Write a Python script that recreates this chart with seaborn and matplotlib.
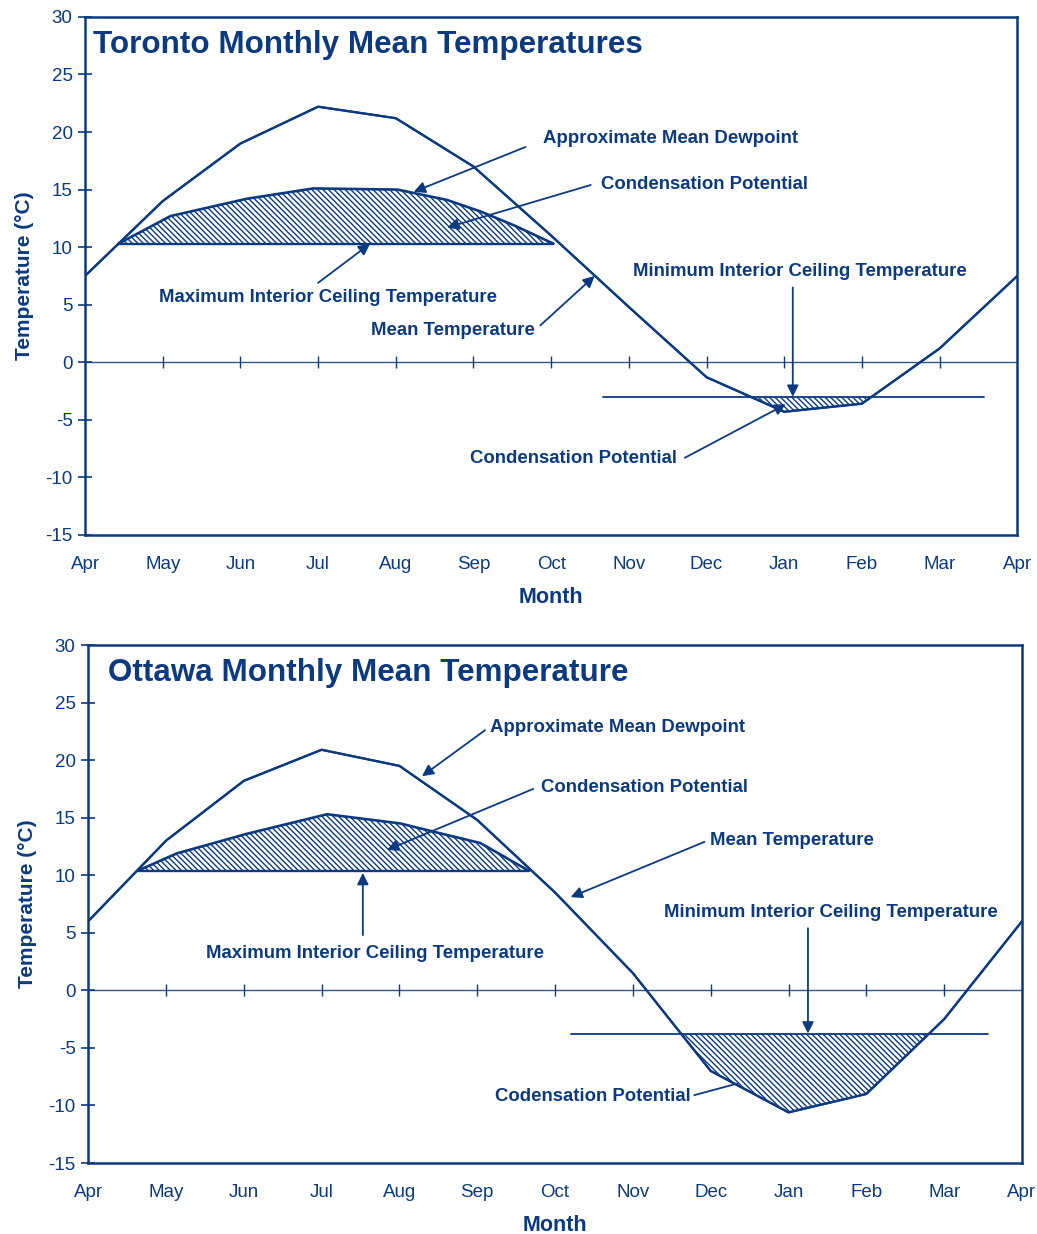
import numpy as np
import pandas as pd
import matplotlib
matplotlib.use('Agg')
import matplotlib.pyplot as plt
import seaborn as sns

# month positions: 0 = Apr ... 12 = Apr (next year)
months = ['Apr', 'May', 'Jun', 'Jul', 'Aug', 'Sep', 'Oct', 'Nov', 'Dec', 'Jan', 'Feb', 'Mar', 'Apr']
month_pos = list(range(13))

# Toronto data
tor_mean = [7.5, 14.0, 19.0, 22.2, 21.2, 17.0, 11.0, 4.8, -1.3, -4.3, -3.6, 1.2, 7.5]
tor_dew_x = [0.43, 1.1, 2.08, 2.94, 4.02, 4.66, 5.09, 5.52, 6.03]
tor_dew_y = [10.3, 12.7, 14.2, 15.1, 15.0, 14.1, 13.1, 11.9, 10.3]
tor_max_ceiling = 10.3
tor_min_ceiling = -3.0
tor_min_span = [6.67, 11.57]

# Ottawa data
ott_mean = [6.0, 13.0, 18.2, 20.9, 19.5, 14.8, 8.5, 1.5, -7.0, -10.6, -9.0, -2.5, 6.0]
ott_dew_x = [0.64, 1.14, 2.04, 3.07, 4.01, 4.61, 5.04, 5.66]
ott_dew_y = [10.4, 11.9, 13.6, 15.3, 14.5, 13.5, 12.8, 10.4]
ott_max_ceiling = 10.4
ott_min_ceiling = -3.75
ott_min_span = [6.2, 11.56]

navy = '#0b3a80'

sns.set_style('white')
plt.rcParams['font.family'] = ['Liberation Sans', 'DejaVu Sans']
plt.rcParams['axes.unicode_minus'] = False
plt.rcParams['hatch.color'] = navy
plt.rcParams['hatch.linewidth'] = 1.0

fig = plt.figure(figsize=(10.37, 12.34), dpi=100)
ax1 = fig.add_axes([0.082, 0.5665, 0.899, 0.4198])
ax2 = fig.add_axes([0.085, 0.0575, 0.9005, 0.4198])

hatch = '\\' * 6


def draw_panel(ax, mean, dew_x, dew_y, max_c, min_c, min_span, title, title_x):
    df = pd.DataFrame({'month': month_pos, 'temp': mean})
    sns.lineplot(data=df, x='month', y='temp', ax=ax, color=navy, lw=1.6)

    # upper condensation zone (dewpoint above max interior ceiling temp)
    ax.fill_between(dew_x, max_c, dew_y, facecolor='white', edgecolor=navy,
                    hatch=hatch, lw=0)
    dew = pd.DataFrame({'month': dew_x, 'temp': dew_y})
    sns.lineplot(data=dew, x='month', y='temp', ax=ax, color=navy, lw=1.9)
    ax.plot([dew_x[0], dew_x[-1]], [max_c, max_c], color=navy, lw=1.7)

    # lower condensation zone (mean temp below min interior ceiling temp)
    xf = np.linspace(0, 12, 1201)
    yf = np.interp(xf, month_pos, mean)
    ax.fill_between(xf, yf, min_c, where=yf < min_c, facecolor='white',
                    edgecolor=navy, hatch=hatch, lw=0, interpolate=True)
    ax.plot(month_pos, mean, color=navy, lw=1.6)
    ax.plot(min_span, [min_c, min_c], color=navy, lw=1.3)

    # zero line with month tick crosses
    ax.axhline(0, color=navy, lw=1.0, alpha=0.85)
    ax.plot(month_pos[1:-1], [0] * 11, ls='none', marker='|', ms=9, mew=1.0, color=navy)

    ax.set_xlim(0, 12)
    ax.set_ylim(-15, 30)
    ax.set_xticks(month_pos)
    ax.set_xticklabels(months)
    ax.set_yticks(range(-15, 31, 5))
    ax.tick_params(axis='x', length=0, pad=15, labelsize=13.5, labelcolor=navy)
    ax.tick_params(axis='y', direction='inout', length=10, width=1.2, color=navy,
                   labelsize=13.5, labelcolor=navy, left=True, pad=4)
    for s in ax.spines.values():
        s.set_color(navy)
        s.set_linewidth(1.8)
    ax.set_xlabel('Month', fontsize=15.5, fontweight='bold', color=navy, labelpad=10)
    ax.set_ylabel('Temperature (°C)', fontsize=15, fontweight='bold', color=navy, labelpad=8)
    ax.text(title_x, 0.946, title, transform=ax.transAxes, fontsize=22.6,
            fontweight='bold', color=navy, va='center', ha='left')


draw_panel(ax1, tor_mean, tor_dew_x, tor_dew_y, tor_max_ceiling, tor_min_ceiling,
           tor_min_span, 'Toronto Monthly Mean Temperatures', 0.009)
draw_panel(ax2, ott_mean, ott_dew_x, ott_dew_y, ott_max_ceiling, ott_min_ceiling,
           ott_min_span, 'Ottawa Monthly Mean Temperature', 0.021)

arrow = dict(arrowstyle='-|>', color=navy, lw=1.3, mutation_scale=17, shrinkA=0, shrinkB=0)
line = dict(arrowstyle='-', color=navy, lw=1.3, shrinkA=0, shrinkB=0)
fs = 13.4


def note(ax, text, text_xy, ha, start, end, props=arrow):
    ax.text(text_xy[0], text_xy[1], text, ha=ha, va='center', fontsize=fs,
            fontweight='bold', color=navy)
    ax.annotate('', xy=end, xytext=start, arrowprops=props)


# Toronto annotations
note(ax1, 'Approximate Mean Dewpoint', (5.9, 19.4), 'left', (5.67, 18.7), (4.23, 14.8))
note(ax1, 'Condensation Potential', (6.64, 15.4), 'left', (6.51, 15.4), (4.66, 11.7))
note(ax1, 'Maximum Interior Ceiling Temperature', (3.13, 5.6), 'center', (3.0, 6.9), (3.67, 10.3))
note(ax1, 'Mean Temperature', (5.79, 2.8), 'right', (5.86, 3.2), (6.56, 7.5))
note(ax1, 'Minimum Interior Ceiling Temperature', (9.2, 7.9), 'center', (9.11, 6.5), (9.11, -3.0))
note(ax1, 'Condensation Potential', (7.62, -8.4), 'right', (7.72, -8.3), (9.02, -3.65))

# Ottawa annotations
note(ax2, 'Approximate Mean Dewpoint', (5.17, 22.85), 'left', (5.1, 22.6), (4.29, 18.6))
note(ax2, 'Condensation Potential', (5.82, 17.6), 'left', (5.72, 17.5), (3.84, 12.2))
note(ax2, 'Mean Temperature', (7.99, 13.0), 'left', (7.92, 12.9), (6.2, 8.1))
note(ax2, 'Maximum Interior Ceiling Temperature', (3.68, 3.2), 'center', (3.53, 4.8), (3.53, 10.2))
note(ax2, 'Minimum Interior Ceiling Temperature', (9.54, 6.8), 'center', (9.25, 5.4), (9.25, -3.75))
note(ax2, 'Codensation Potential', (7.75, -9.2), 'right', (7.79, -9.1), (8.34, -8.1), line)

fig.savefig('out.png', dpi=100, facecolor='white')
